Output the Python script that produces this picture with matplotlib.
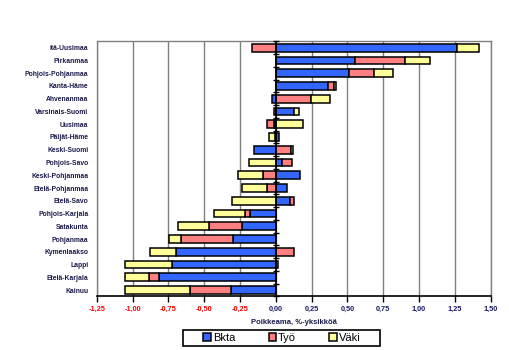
import numpy as np
import matplotlib
matplotlib.use('Agg')
import matplotlib.pyplot as plt
from matplotlib.patches import Rectangle

plt.rcParams['font.family'] = ['Liberation Sans', 'DejaVu Sans']

# Maakunnat ylhäältä alas
alueet = ['Itä-Uusimaa', 'Pirkanmaa', 'Pohjois-Pohjanmaa', 'Kanta-Häme', 'Ahvenanmaa',
          'Varsinais-Suomi', 'Uusimaa', 'Päijät-Häme', 'Keski-Suomi', 'Pohjois-Savo',
          'Keski-Pohjanmaa', 'Etelä-Pohjanmaa', 'Etelä-Savo', 'Pohjois-Karjala', 'Satakunta',
          'Pohjanmaa', 'Kymenlaakso', 'Lappi', 'Etelä-Karjala', 'Kainuu']

bkta = [1.263, 0.553, 0.510, 0.363, -0.026, 0.124, -0.010, 0.020, -0.150, 0.042,
        0.168, 0.077, 0.102, -0.178, -0.234, -0.300, -0.695, -0.725, -0.816, -0.316]
tyo = [-0.167, 0.351, 0.176, 0.042, 0.244, -0.012, -0.051, -0.005, 0.105, 0.070,
       -0.087, -0.059, 0.024, -0.035, -0.234, -0.365, 0.124, 0.018, -0.070, -0.284]
vaki = [0.155, 0.172, 0.131, 0.018, 0.137, 0.039, 0.192, -0.040, 0.012, -0.185,
        -0.175, -0.175, -0.305, -0.220, -0.218, -0.082, -0.186, -0.332, -0.170, -0.456]

sarjat = [('Bkta', bkta, '#3366FF'), ('Työ', tyo, '#FF8080'), ('Väki', vaki, '#FFFF99')]

xticks = [-1.25, -1.0, -0.75, -0.5, -0.25, 0.0, 0.25, 0.5, 0.75, 1.0, 1.25, 1.5]

fig = plt.figure(figsize=(5.1, 3.5), dpi=100)
ax = fig.add_axes([0.190, 0.153, 0.772, 0.729])

y = np.arange(len(alueet))
pos = np.zeros(len(alueet))
neg = np.zeros(len(alueet))
for nimi, arvot, vari in sarjat:
    a = np.array(arvot)
    left = np.where(a >= 0, pos, neg)
    ax.barh(y, a, left=left, height=0.6, color=vari, edgecolor='black',
            linewidth=1.1, label=nimi, zorder=3)
    pos = pos + np.where(a >= 0, a, 0)
    neg = neg + np.where(a < 0, a, 0)

ax.set_ylim(len(alueet) - 0.5, -0.5)
ax.set_xlim(xticks[0], xticks[-1])

# pystyviivat
for xt in xticks:
    ax.axvline(xt, color='#808080', lw=1.0, zorder=1)

# nolla-akseli ja sen jakoviivat
ax.axvline(0, color='black', lw=1.2, zorder=4)
rajat = np.arange(len(alueet) + 1) - 0.5
ax.plot(np.zeros(len(rajat)), rajat, linestyle='none', marker='_', color='black',
        markersize=4, markeredgewidth=1, zorder=4, clip_on=False)

for s in ['top', 'right', 'left']:
    ax.spines[s].set_color('#808080')
    ax.spines[s].set_linewidth(1.0)
ax.spines['bottom'].set_color('black')
ax.spines['bottom'].set_linewidth(1.2)

ax.set_yticks(y)
ax.set_yticklabels(alueet, fontsize=4.9, fontweight='bold', color='#1a1a4a')
ax.tick_params(axis='y', length=0, pad=6)

ax.set_xticks(xticks)
ax.set_xticklabels([('%.2f' % v).replace('.', ',') for v in xticks],
                   fontsize=5.3, fontweight='bold')
for lab, v in zip(ax.get_xticklabels(), xticks):
    lab.set_color('red' if v < 0 else '#1a1a6a')
ax.tick_params(axis='x', length=4, direction='out', width=1, pad=3)

ax.set_xlabel('Poikkeama, %-yksikköä', fontsize=5.5, fontweight='bold',
              color='#1a1a4a', labelpad=4)

# selite ja sen kehys
fig.add_artist(Rectangle((0.359, 0.0114), 0.386, 0.0457, transform=fig.transFigure,
                         fill=False, edgecolor='black', linewidth=1.2))
leg = fig.legend(loc='center', bbox_to_anchor=(0.553, 0.0343), ncol=3,
                 fontsize=8, frameon=False,
                 handlelength=0.7, handleheight=0.7, handletextpad=0.15,
                 columnspacing=3.0, borderpad=0.0)

fig.savefig('out.png', dpi=100)
